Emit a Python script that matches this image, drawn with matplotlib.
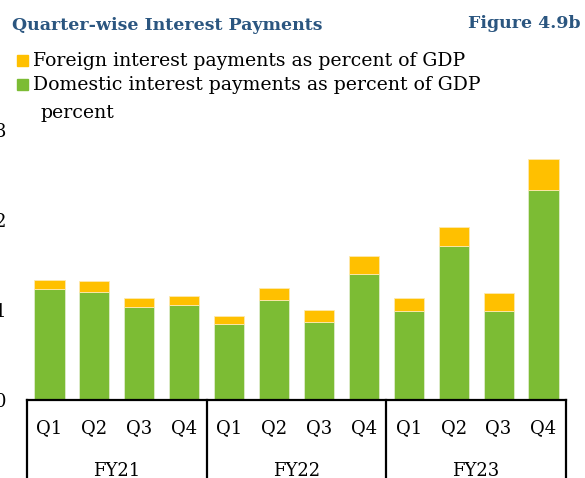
import matplotlib
matplotlib.use("Agg")
import matplotlib.pyplot as plt
from matplotlib.patches import Rectangle
import numpy as np

quarters = ["Q1", "Q2", "Q3", "Q4"] * 3
fiscal_years = ["FY21", "FY22", "FY23"]
domestic = [1.23, 1.20, 1.03, 1.055, 0.85, 1.11, 0.87, 1.40, 0.99, 1.71, 0.99, 2.33]
foreign = [0.10, 0.12, 0.10, 0.105, 0.08, 0.13, 0.125, 0.20, 0.14, 0.21, 0.20, 0.35]
y_ticks = [0, 1, 2, 3]

GREEN = "#7CBC34"
YELLOW = "#FFC000"
TITLE_BLUE = "#2B5680"
SERIF = ["DejaVu Serif"]

plt.rcParams["font.family"] = SERIF

W, H = 585, 478
fig = plt.figure(figsize=(W / 100, H / 100), dpi=100)
ax = fig.add_axes([27 / W, 1 - 400 / H, (566 - 27) / W, 270 / H])

x = np.arange(len(quarters))
ax.bar(x, domestic, width=0.67, color=GREEN, edgecolor="#dfeccc", linewidth=0.6, zorder=2)
ax.bar(x, foreign, width=0.67, bottom=domestic, color=YELLOW, edgecolor="#fde9b0",
       linewidth=0.6, zorder=2)

ax.set_xlim(-0.5, len(quarters) - 0.5)
ax.set_ylim(0, 3)
ax.set_yticks(y_ticks)
ax.set_yticklabels([str(v) for v in y_ticks], fontsize=13)
ax.tick_params(axis="y", length=0, pad=15)
ax.set_xticks(x)
ax.set_xticklabels(quarters, fontsize=13)
ax.tick_params(axis="x", length=0, pad=14)

for side in ("left", "right", "top"):
    ax.spines[side].set_visible(False)
ax.spines["bottom"].set_linewidth(1.6)
ax.spines["bottom"].set_color("black")

# group separators and fiscal-year labels below the quarter labels
trans = ax.get_xaxis_transform()
for b in [-0.5, 3.5, 7.5, 11.5]:
    ax.plot([b, b], [0, -0.35], transform=trans, color="black", lw=1.6, clip_on=False)
for i, fy in enumerate(fiscal_years):
    ax.text(4 * i + 1.5, -0.262, fy, transform=trans, ha="center", va="center",
            fontsize=13)

# header texts
fig.text(12 / W, 1 - 26 / H, "Quarter-wise Interest Payments", fontsize=12.5,
         fontweight="bold", color=TITLE_BLUE, va="center", ha="left")
fig.text(581 / W, 1 - 24 / H, "Figure 4.9b", fontsize=12.5, fontweight="bold",
         color=TITLE_BLUE, va="center", ha="right")

legend_items = [("Foreign interest payments as percent of GDP", YELLOW, 61),
                ("Domestic interest payments as percent of GDP", GREEN, 85)]
for label, col, yc in legend_items:
    fig.patches.append(Rectangle((17 / W, 1 - (yc + 5) / H), 11 / W, 11 / H,
                                 transform=fig.transFigure, color=col))
    fig.text(33 / W, 1 - yc / H, label, fontsize=13.6, va="center", ha="left")
fig.text(40 / W, 1 - 113 / H, "percent", fontsize=13.6, va="center", ha="left")

fig.savefig("out.png", dpi=100)
